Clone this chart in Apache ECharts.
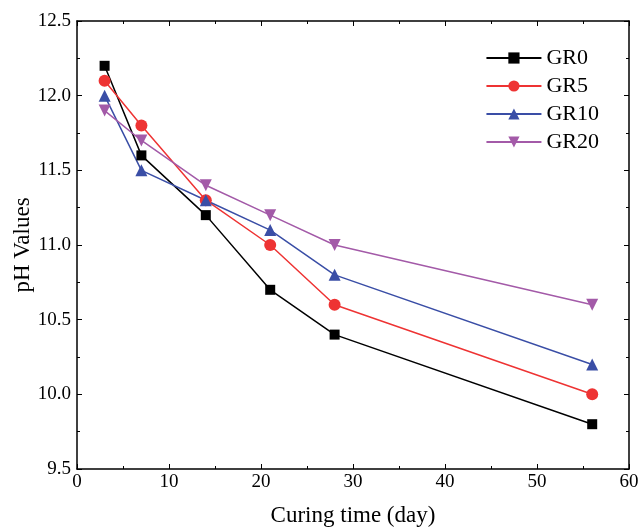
<!DOCTYPE html>
<html><head><meta charset="utf-8">
<script src="https://cdn.jsdelivr.net/npm/echarts@6/dist/echarts.min.js"></script>
<style>html,body{margin:0;padding:0;background:#fff}#c{width:641px;height:527px}</style>
</head><body><div id="c"></div>
<script>
const days = [3, 7, 14, 21, 28, 56];
const GR0 = [12.2, 11.6, 11.2, 10.7, 10.4, 9.8];
const GR5 = [12.1, 11.8, 11.3, 11.0, 10.6, 10.0];
const GR10 = [12.0, 11.5, 11.3, 11.1, 10.8, 10.2];
const GR20 = [11.9, 11.7, 11.4, 11.2, 11.0, 10.6];
const names = ['GR0', 'GR5', 'GR10', 'GR20'];
const colors = ['#000000', '#ee3333', '#3a4ea6', '#a35aa8'];
const symbols = ['rect', 'circle', 'triangle', 'triangle'];
const rotates = [0, 0, 0, 180];
const F = 'Liberation Serif, Times New Roman, serif';
const chart = echarts.init(document.getElementById('c'));
const axisCommon = {
  axisLine: {show: true, onZero: false, lineStyle: {color: '#000', width: 1.5}},
  axisTick: {show: true, inside: true, length: 5, lineStyle: {color: '#000'}},
  minorTick: {show: true, splitNumber: 2, length: 3, lineStyle: {color: '#000'}},
  splitLine: {show: false}
};
const series = [GR0, GR5, GR10, GR20].map((d, i) => ({
  name: names[i], type: 'line', data: days.map((x, j) => [x, d[j]]),
  symbol: symbols[i], symbolRotate: rotates[i], symbolSize: i === 0 ? 10 : 12,
  itemStyle: {color: colors[i]}, lineStyle: {color: colors[i], width: 1.5}
}));
chart.setOption({
  animation: false,
  grid: {left: 77, right: 12, top: 21, bottom: 58, containLabel: false, outerBoundsMode: 'none'},
  legend: {
    right: 37, top: 42, orient: 'vertical', itemGap: 6, itemWidth: 55, itemHeight: 14,
    textStyle: {fontFamily: F, fontSize: 22, color: '#000'}
  },
  xAxis: [
    Object.assign({type: 'value', min: 0, max: 60, interval: 10, position: 'bottom',
      name: 'Curing time (day)', nameLocation: 'middle', nameGap: 35, nameMoveOverlap: false,
      nameTextStyle: {fontFamily: F, fontSize: 23, color: '#000'},
      axisLabel: {fontFamily: F, fontSize: 19, color: '#000', margin: 4}}, axisCommon),
    Object.assign({type: 'value', min: 0, max: 60, interval: 10, position: 'top',
      axisLabel: {show: false}}, axisCommon)
  ],
  yAxis: [
    Object.assign({type: 'value', min: 9.5, max: 12.5, interval: 0.5, position: 'left',
      name: 'pH Values', nameLocation: 'middle', nameGap: 43, nameMoveOverlap: false,
      nameTextStyle: {fontFamily: F, fontSize: 23, color: '#000'},
      axisLabel: {fontFamily: F, fontSize: 19, color: '#000', margin: 6,
        formatter: v => v.toFixed(1)}}, axisCommon),
    Object.assign({type: 'value', min: 9.5, max: 12.5, interval: 0.5, position: 'right',
      axisLabel: {show: false}}, axisCommon)
  ],
  series: series
});
</script></body></html>
